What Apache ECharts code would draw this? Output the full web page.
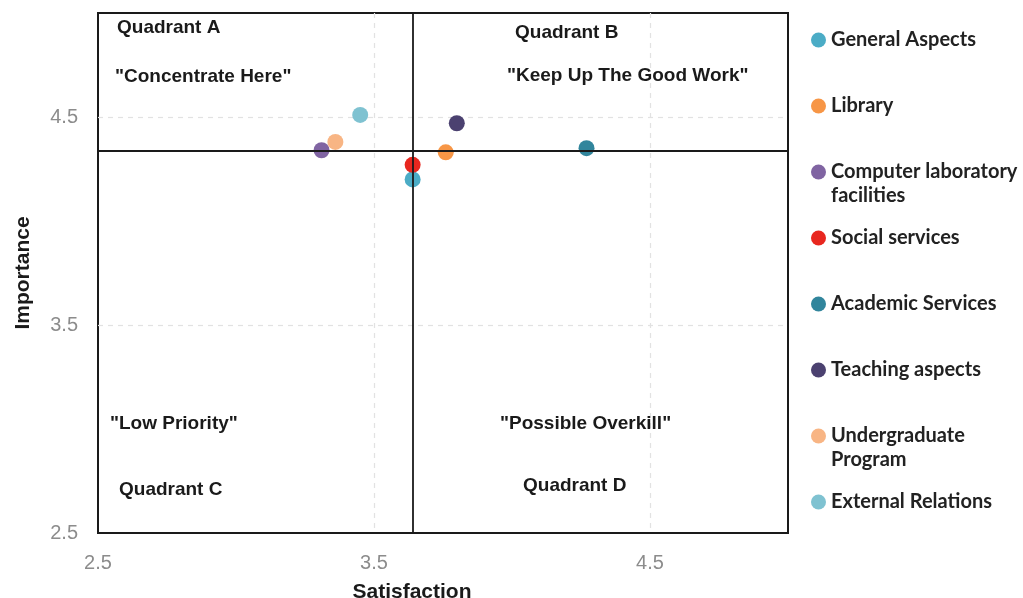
<!DOCTYPE html>
<html>
<head>
<meta charset="utf-8">
<style>
  html, body { margin: 0; padding: 0; background: #ffffff; }
  #chart { width: 1023px; height: 598px; }
</style>
<script src="https://cdn.jsdelivr.net/npm/echarts@6/dist/echarts.min.js"></script>
</head>
<body>
<div id="chart"></div>
<script>
// Survey areas, their mean satisfaction and importance scores
const areas = [
  'General Aspects',
  'Library',
  'Computer laboratory facilities',
  'Social services',
  'Academic Services',
  'Teaching aspects',
  'Undergraduate Program',
  'External Relations'
];
const satisfaction = [3.64, 3.76, 3.31, 3.64, 4.27, 3.80, 3.36, 3.45];
const importance   = [4.20, 4.33, 4.34, 4.27, 4.35, 4.47, 4.38, 4.51];
const areaColors = ['#4BACC6', '#F79646', '#8064A2', '#E8271F', '#31859C', '#4B4170', '#F8B584', '#7FC2D1'];

// Legend labels, wrapped where the name is long
const legendLabels = [
  ['General Aspects'],
  ['Library'],
  ['Computer laboratory', 'facilities'],
  ['Social services'],
  ['Academic Services'],
  ['Teaching aspects'],
  ['Undergraduate', 'Program'],
  ['External Relations']
];

// Cut-off lines that split the plane into quadrants (overall means)
const meanSatisfaction = 3.64;
const meanImportance = 4.34;

// Axis range and tick step
const axisMin = 2.5;
const axisMax = 5.0;
const axisStep = 1;

// Quadrant captions
const quadrantTexts = [
  'Quadrant A', '"Concentrate Here"',
  'Quadrant B', '"Keep Up The Good Work"',
  '"Low Priority"', 'Quadrant C',
  '"Possible Overkill"', 'Quadrant D'
];

// ---- layout ----
const captionPos = [
  [117, 28], [115, 77],
  [515, 33], [507, 76],
  [110, 424], [119, 490],
  [500, 424], [523, 486]
];
const legendCenters = [40, 106, 172, 238, 304, 370, 436, 502];
const legendLine = 24;

const chart = echarts.init(document.getElementById('chart'), null, { renderer: 'canvas' });

const axisCommon = {
  type: 'value',
  min: axisMin,
  max: axisMax,
  interval: axisStep,
  axisLine: { show: false },
  axisTick: { show: false },
  axisLabel: {
    showMaxLabel: false,
    color: '#8c8c8c',
    fontFamily: 'Liberation Sans, Arial, sans-serif',
    fontSize: 20,
    margin: 20,
    formatter: v => v.toFixed(1)
  },
  splitLine: {
    show: true,
    showMinLine: false,
    showMaxLine: false,
    lineStyle: { color: '#e2e2e2', type: [5, 5], width: 1.2 }
  },
  nameLocation: 'middle',
  nameTextStyle: {
    color: '#1a1a1a',
    fontFamily: 'Liberation Sans, Arial, sans-serif',
    fontWeight: 'bold',
    fontSize: 21
  }
};

const series = areas.map((name, i) => ({
  name: name,
  type: 'scatter',
  symbol: 'circle',
  symbolSize: 16,
  z: 3,
  itemStyle: { color: areaColors[i], opacity: 1 },
  data: [[satisfaction[i], importance[i]]]
}));

// Quadrant divider lines, drawn beneath the points
series.push({
  name: 'dividers',
  type: 'scatter',
  data: [],
  z: 1,
  silent: true,
  markLine: {
    silent: true,
    symbol: 'none',
    label: { show: false },
    lineStyle: { color: '#1a1a1a', type: 'solid', width: 1.8 },
    data: [{ xAxis: meanSatisfaction }, { yAxis: meanImportance }]
  }
});

// One legend block per area so every marker sits on its own row;
// wrapped names get a leading empty line so the marker lines up with the first line
const legends = areas.map((name, i) => {
  const lines = legendLabels[i];
  const extraLines = lines.length - 1;
  const text = (extraLines ? '\n'.repeat(extraLines) : '') + lines.join('\n');
  const totalLines = lines.length + extraLines;
  return {
    data: [name],
    orient: 'vertical',
    left: 811,
    top: legendCenters[i] - (totalLines * legendLine) / 2,
    padding: 0,
    itemGap: 0,
    itemWidth: 15,
    itemHeight: 15,
    icon: 'circle',
    selectedMode: false,
    formatter: () => text,
    textStyle: {
      color: '#222222',
      fontFamily: 'Lato, Noto Sans, sans-serif',
      fontWeight: 'bold',
      fontSize: 20,
      lineHeight: legendLine
    }
  };
});

const captions = quadrantTexts.map((t, i) => ({
  type: 'text',
  x: captionPos[i][0],
  y: captionPos[i][1],
  z: 10,
  style: {
    text: t,
    fill: '#1a1a1a',
    font: 'bold 19px "Liberation Sans", Arial, sans-serif',
    verticalAlign: 'middle',
    align: 'left'
  }
}));

chart.setOption({
  animation: false,
  backgroundColor: '#ffffff',
  grid: {
    left: 98,
    right: 235,
    top: 13,
    bottom: 65,
    outerBoundsMode: 'none',
    show: true,
    borderColor: '#1a1a1a',
    borderWidth: 2,
    backgroundColor: 'transparent'
  },
  xAxis: Object.assign({}, axisCommon, {
    name: 'Satisfaction',
    nameGap: 49,
    nameTextStyle: Object.assign({}, axisCommon.nameTextStyle, { padding: [0, 62, 0, 0] })
  }),
  yAxis: Object.assign({}, axisCommon, {
    name: 'Importance',
    nameGap: 64
  }),
  legend: legends,
  graphic: captions,
  series: series
});
</script>
</body>
</html>
